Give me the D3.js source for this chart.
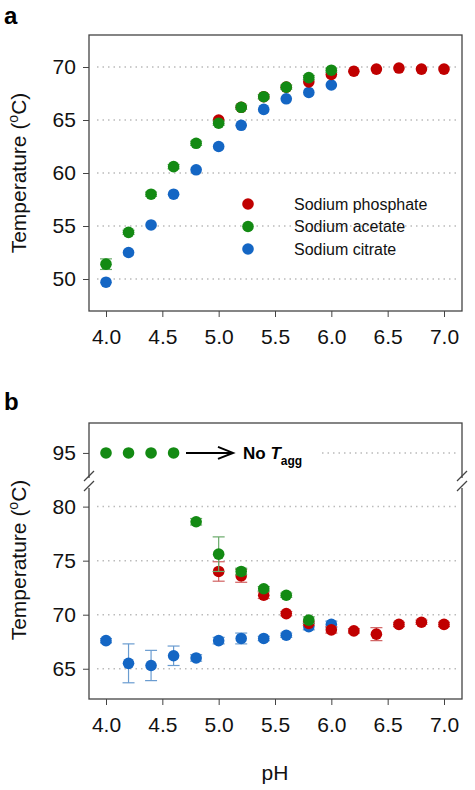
<!DOCTYPE html>
<html><head><meta charset="utf-8">
<script src="https://cdn.jsdelivr.net/npm/d3@7"></script>
<style>body{margin:0;background:#fff}svg{font-family:"Liberation Sans",Arial,sans-serif}</style>
</head><body><svg id="c" width="475" height="790"></svg>
<script>
const phA = [4.0,4.2,4.4,4.6,4.8,5.0,5.2,5.4,5.6,5.8,6.0];
const phP = [5.0,5.2,5.4,5.6,5.8,6.0,6.2,6.4,6.6,6.8,7.0];
const aPhosphate = [65.0,66.2,67.2,68.1,68.6,69.3,69.6,69.8,69.9,69.8,69.8];
const aAcetate   = [51.4,54.4,58.0,60.6,62.8,64.7,66.2,67.2,68.1,69.0,69.7];
const aAcetateErr= [0.5,0.2,0.2,0.2,0.2,0.2,0.2,0.2,0.2,0.2,0.2];
const aCitrate   = [49.7,52.5,55.1,58.0,60.3,62.5,64.5,66.0,67.0,67.6,68.3];
const bAcetate   = [95,95,95,95,78.6,75.6,74.0,72.4,71.8,69.5];
const bAcetateErr= [0,0,0,0,0.3,1.6,0.3,0.2,0.2,0.3];
const bPhosphate = [74.0,73.6,71.8,70.1,69.2,68.6,68.5,68.2,69.1,69.3,69.1];
const bPhosphateErr=[0.9,0.6,0.3,0.2,0.2,0.3,0.2,0.6,0.2,0.2,0.2];
const bCitrate   = [67.6,65.5,65.3,66.2,66.0,67.6,67.8,67.8,68.1,68.9,69.1];
const bCitrateErr= [0.2,1.8,1.4,0.9,0.3,0.3,0.5,0.2,0.2,0.3,0.3];
const xTicks = [4.0,4.5,5.0,5.5,6.0,6.5,7.0];
const yTicksA = [50,55,60,65,70];
const yTicksB = [65,70,75,80];
const legendNames = ["Sodium phosphate","Sodium acetate","Sodium citrate"];
const colors = ["#c00000","#138a13","#1466c4"];
const errColors = ["#d06060","#6aaa6a","#6a9cd0"];

const svg = d3.select("#c");
const L=89,R=462;
const x = d3.scaleLinear().domain([4.0,7.0]).range([106,444]);

function frame(top,bottom){
  svg.append("rect").attr("x",L).attr("y",top).attr("width",R-L).attr("height",bottom-top)
    .attr("fill","none").attr("stroke","#444").attr("stroke-width",1.3);
  const g=svg.append("g").attr("transform",`translate(0,${bottom})`)
    .call(d3.axisBottom(x).tickValues(xTicks).tickFormat(d3.format(".1f")).tickSize(6).tickSizeOuter(0));
  g.select(".domain").remove();
  g.selectAll("line").attr("stroke","#444");
  g.selectAll("text").attr("font-size",21).attr("dy","1.15em").attr("fill","#111");
}
function yaxis(y,ticks){
  const g=svg.append("g").attr("transform",`translate(${L},0)`)
    .call(d3.axisLeft(y).tickValues(ticks).tickFormat(d3.format("d")).tickSize(6));
  g.select(".domain").remove();
  g.selectAll("line").attr("stroke","#444");
  g.selectAll("text").attr("font-size",21).attr("fill","#111").attr("dx","-0.2em");
}
function grid(yv,x0){
  svg.append("line").attr("x1",x0||L+8).attr("x2",R-3).attr("y1",yv).attr("y2",yv)
    .attr("stroke","#bbb").attr("stroke-width",1.5).attr("stroke-dasharray","1.5,4");
}
function series(xs,ys,es,y,ci){
  const g=svg.append("g");
  ys.forEach((v,i)=>{
    const p=xs[i], e=es?es[i]:0, cx=x(p);
    if(e>0){
      g.append("line").attr("x1",cx).attr("x2",cx).attr("y1",y(v-e)).attr("y2",y(v+e)).attr("stroke",errColors[ci]).attr("stroke-width",1.2);
      [v-e,v+e].forEach(w=>g.append("line").attr("x1",cx-6).attr("x2",cx+6).attr("y1",y(w)).attr("y2",y(w)).attr("stroke",errColors[ci]).attr("stroke-width",1.2));
    }
    g.append("circle").attr("cx",cx).attr("cy",y(v)).attr("r",5.8).attr("fill",colors[ci]);
  });
}
function ytitle(cy){
  const t=svg.append("text").attr("transform",`translate(26,${cy}) rotate(-90)`).attr("text-anchor","middle").attr("font-size",21).attr("fill","#111");
  t.append("tspan").text("Temperature (");
  t.append("tspan").text("o").attr("font-size",14).attr("dy",-8);
  t.append("tspan").text("C)").attr("dy",8);
}

// Panel a
const yA = d3.scaleLinear().domain([50,70]).range([279,67]);
yTicksA.forEach(v=>grid(yA(v)));
frame(35,311); yaxis(yA,yTicksA); ytitle(173);
series(phA,aCitrate,null,yA,2);
series(phP,aPhosphate,null,yA,0);
series(phA,aAcetate,aAcetateErr,yA,1);
legendNames.forEach((n,i)=>{
  svg.append("circle").attr("cx",248).attr("cy",204+i*22.5).attr("r",5.8).attr("fill",colors[i]);
  svg.append("text").attr("x",294).attr("y",204+i*22.5).attr("dy","0.35em").attr("font-size",16).attr("fill","#111").text(n);
});
svg.append("text").attr("x",4).attr("y",24).attr("font-size",24).attr("font-weight","bold").text("a");

// Panel b (broken axis)
const yB = d3.scaleLinear().domain([62.2,82]).range([699,485]);
const yU = d3.scaleLinear().domain([92,97.8]).range([485,423]);
const yBoth = v=> v>=90 ? yU(v) : yB(v);
yTicksB.forEach(v=>grid(yB(v)));
grid(yU(95),322);
frame(423,699);
yaxis(yB,yTicksB);
yaxis(yU,[95]);
[L,R].forEach(xx=>{
  svg.append("rect").attr("x",xx-3).attr("y",478).attr("width",6).attr("height",10).attr("fill","#fff");
  [476,486].forEach(yy=>svg.append("line").attr("x1",xx-5).attr("x2",xx+5).attr("y1",yy+5).attr("y2",yy-5).attr("stroke","#444").attr("stroke-width",1.2));
});
ytitle(560);
series(phA,bCitrate,bCitrateErr,yBoth,2);
series(phP,bPhosphate,bPhosphateErr,yBoth,0);
series(phA,bAcetate,bAcetateErr,yBoth,1);
const ay=yU(95);
svg.append("line").attr("x1",186).attr("x2",232).attr("y1",ay).attr("y2",ay).attr("stroke","#000").attr("stroke-width",2);
svg.append("path").attr("d",`M218,${ay-6}L233,${ay}L218,${ay+6}`).attr("fill","none").attr("stroke","#000").attr("stroke-width",2);
const nt=svg.append("text").attr("x",243).attr("y",ay).attr("dy","0.35em").attr("font-size",17).attr("font-weight","bold");
nt.append("tspan").text("No ");
nt.append("tspan").text("T").attr("font-style","italic");
nt.append("tspan").text("agg").attr("font-size",12).attr("dy",6);
svg.append("text").attr("x",4).attr("y",410).attr("font-size",24).attr("font-weight","bold").text("b");
svg.append("text").attr("x",x(5.5)).attr("y",780).attr("text-anchor","middle").attr("font-size",21).attr("fill","#111").text("pH");
</script></body></html>
